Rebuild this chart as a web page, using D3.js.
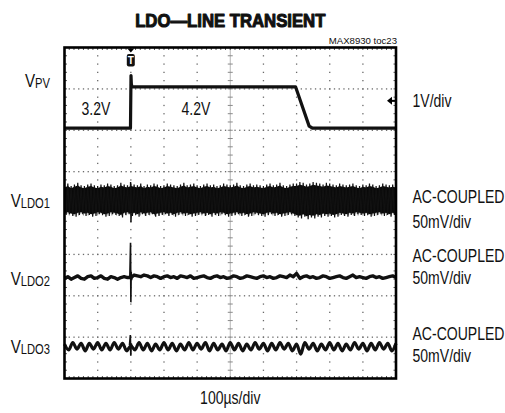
<!DOCTYPE html>
<html>
<head>
<meta charset="utf-8">
<script src="https://cdn.jsdelivr.net/npm/d3@7"></script>
<style>
  html, body { margin: 0; padding: 0; background: #fff; }
  svg { display: block; }
  .lbl { font-family: "Liberation Sans", Arial, Helvetica, sans-serif; fill: #111; }
</style>
</head>
<body>
<svg id="chart" width="505" height="413"></svg>
<script>
// ---- scope settings -------------------------------------------------------
const timeDivs = d3.range(0, 1001, 100);          // 100 µs/div, 10 divisions
const vertDivs = d3.range(-4, 5, 1);              // 8 vertical divisions

// ---- VPV input step (V) ---------------------------------------------------
const vpvT = [0, 199, 200.6, 201.6, 203, 206, 697, 738, 748, 1000];
const vpvV = [3.2, 3.2, 4.47, 4.28, 4.21, 4.2, 4.2, 3.25, 3.2, 3.2];
const vpvTrigLevel = 3.86;

// ---- VLDO1 noise band envelope (mV), one sample every 10 µs -----------------
const ldo1Step = 10;
const ldo1Upper = [18,20,17,19,21,18,17,19,20,18,
                   17,19,18,20,19,17,18,21,19,18,
                   20,19,18,20,17,19,18,20,19,17,
                   18,20,19,18,17,19,21,18,19,20,
                   18,17,19,20,18,19,17,18,20,19,
                   18,19,21,18,17,19,20,18,19,18,
                   17,19,20,18,19,21,18,17,19,20,
                   20,22,21,19,20,22,21,20,19,21,
                   20,19,18,20,19,18,19,20,18,17,
                   19,18,20,19,17,18,20,19,18,19,
                   18];
const ldo1Lower = [-18,-17,-19,-20,-18,-17,-19,-18,-20,-19,
                   -17,-18,-20,-19,-17,-18,-19,-21,-18,-17,
                   -19,-18,-20,-17,-19,-18,-17,-20,-19,-18,
                   -17,-19,-18,-20,-18,-17,-19,-18,-20,-19,
                   -18,-17,-19,-18,-20,-18,-19,-17,-18,-20,
                   -19,-18,-17,-19,-18,-20,-19,-17,-18,-19,
                   -20,-18,-17,-19,-18,-20,-19,-18,-17,-19,
                   -21,-22,-20,-23,-21,-22,-20,-21,-19,-20,
                   -19,-21,-20,-18,-19,-20,-18,-19,-17,-18,
                   -19,-18,-20,-19,-18,-17,-19,-18,-20,-18,
                   -19];
const ldo1SpikeT = [198, 199.4, 200.4, 201.6];
const ldo1SpikeV = [-15, 22, -27, -16];

// ---- VLDO2 (mV), one sample every 10 µs -----------------------------------
const ldo2Step = 10;
const ldo2V = [-1,1,-2,0,2,-1,-2,1,2,-1,
               0,2,-1,-2,1,0,-2,0,1,0,
               0,3,2,1,3,2,0,2,1,-1,
               1,2,0,1,-1,2,1,0,2,-1,
               0,1,2,0,-1,1,2,0,1,-1,
               0,2,1,-1,0,2,1,0,-1,1,
               2,0,1,-1,0,2,1,0,3,1,
               5,-1,1,2,0,1,-1,0,2,1,
               -1,0,1,2,0,-1,1,3,0,1,
               0,-1,1,2,0,1,-1,0,1,2,
               0];
const ldo2SpikeT = [197, 199.2, 200.2, 201.2, 202.4, 204];
const ldo2SpikeV = [0, 42, -30, 7, -3, 1];

// ---- VLDO3 ripple (mV), one sample every 12.5 µs --------------------------
const ldo3Step = 12.5;
const ldo3V = [3,-4,5,-3,4,-5,4,-3,5,-4,
               4,-4,5,-3,4,-5,1,-4,5,-4,
               4,-5,3,-4,5,-4,4,-5,3,-4,
               5,-4,4,-3,5,-5,4,-4,3,-5,
               5,-4,4,-5,3,-4,5,-3,4,-5,
               4,-4,5,-3,4,-5,3,-9,5,-3,
               4,-5,3,-4,5,-4,4,-5,3,-4,
               5,-3,4,-5,4,-4,5,-3,4,-5,
               4];
const ldo3SpikeT = [196, 198.6, 200, 201.4, 204];
const ldo3SpikeV = [2, 14, -11, 4, 0];

// ---- text -----------------------------------------------------------------
const titleText = "LDO\u2014LINE TRANSIENT";
const tocText = "MAX8930 toc23";
const timeLabel = "100\u00b5s/div";
const levelLabels = ["3.2V", "4.2V"];
const channelNames = [["V", "PV"], ["V", "LDO1"], ["V", "LDO2"], ["V", "LDO3"]];
const channelScales = [["1V/div"], ["AC-COUPLED", "50mV/div"], ["AC-COUPLED", "50mV/div"], ["AC-COUPLED", "50mV/div"]];

// ---- layout ---------------------------------------------------------------
const frame = { left: 64.5, right: 396, top: 47.5, bottom: 378.5 };
const svg = d3.select("#chart");
const narrow = 0.78;   // horizontal squeeze for the condensed lettering

const x = d3.scaleLinear().domain([0, 1000]).range([frame.left, frame.right]);
const div = d3.scaleLinear().domain([4, -4]).range([frame.top, frame.bottom]);

// a channel whose value `ref` sits at `refDiv` divisions from screen centre
function channelScale(perDiv, ref, refDiv) {
  return d3.scaleLinear()
    .domain([ref - (4 + refDiv) * perDiv, ref + (4 - refDiv) * perDiv])
    .range([frame.bottom, frame.top]);
}
const vpvY  = channelScale(1, 3.2, 2.05);
const ldo1Y = channelScale(50, 0, 0.31);
const ldo2Y = channelScale(50, 0, -1.56);
const ldo3Y = channelScale(50, 0, -3.23);

const divW = (frame.right - frame.left) / 10;
const divH = (frame.bottom - frame.top) / 8;

function label(px, py, size, anchor, sx) {
  return svg.append("text").attr("class", "lbl")
    .attr("transform", `translate(${px},${py}) scale(${sx},1)`)
    .attr("text-anchor", anchor).attr("font-size", size);
}

// ---- graticule ------------------------------------------------------------
const grid = svg.append("g").attr("fill", "#6a6a6a");
const xCentre = x(500), yCentre = div(0);

// dotted horizontal lines (7 dots per division)
vertDivs.filter(d => d !== -4 && d !== 4 && d !== 0).forEach(d => {
  const yy = div(d);
  d3.range(0, 71).forEach(i => {
    grid.append("rect").attr("x", frame.left + i * divW / 7 - 0.6).attr("y", yy - 0.6)
      .attr("width", 1.3).attr("height", 1.3);
  });
});
// dotted vertical lines (5 dots per division)
timeDivs.filter(t => t !== 0 && t !== 1000 && t !== 500).forEach(t => {
  const xx = x(t);
  d3.range(0, 41).forEach(j => {
    grid.append("rect").attr("x", xx - 0.6).attr("y", frame.top + j * divH / 5 - 0.6)
      .attr("width", 1.3).attr("height", 1.3);
  });
});
// centre axes with minor ticks, plus edge ticks
const axes = svg.append("g").attr("stroke", "#8a8a8a").attr("stroke-width", 1);
axes.append("line").attr("x1", xCentre).attr("x2", xCentre).attr("y1", frame.top).attr("y2", frame.bottom).attr("stroke", "#b5b5b5");
axes.append("line").attr("y1", yCentre).attr("y2", yCentre).attr("x1", frame.left).attr("x2", frame.right).attr("stroke", "#b5b5b5");
d3.range(0, 41).forEach(j => {
  const yy = frame.top + j * divH / 5;
  axes.append("line").attr("x1", xCentre - 2.5).attr("x2", xCentre + 2.5).attr("y1", yy).attr("y2", yy);
  axes.append("line").attr("x1", frame.left).attr("x2", frame.left + 2.5).attr("y1", yy).attr("y2", yy).attr("stroke", "#555");
  axes.append("line").attr("x1", frame.right - 2.5).attr("x2", frame.right).attr("y1", yy).attr("y2", yy).attr("stroke", "#555");
});
d3.range(0, 71).forEach(i => {
  const xx = frame.left + i * divW / 7;
  axes.append("line").attr("x1", xx).attr("x2", xx).attr("y1", yCentre - 2.5).attr("y2", yCentre + 2.5);
  axes.append("line").attr("x1", xx).attr("x2", xx).attr("y1", frame.top).attr("y2", frame.top + 2.5).attr("stroke", "#555");
  axes.append("line").attr("x1", xx).attr("x2", xx).attr("y1", frame.bottom - 2.5).attr("y2", frame.bottom).attr("stroke", "#555");
});

// ---- traces ---------------------------------------------------------------
const traces = svg.append("g");
const zip = (ts, vs) => ts.map((t, i) => [t, vs[i]]);
const stepped = (step, vs) => vs.map((v, i) => [i * step, v]);

// VPV
traces.append("path")
  .datum(zip(vpvT, vpvV))
  .attr("d", d3.line().x(d => x(d[0])).y(d => vpvY(d[1])))
  .attr("fill", "none").attr("stroke", "#111").attr("stroke-width", 3.2)
  .attr("stroke-linejoin", "round");

// VLDO1 noise band: solid core plus a zigzag reaching the full envelope
const ldo1Band = ldo1Upper.map((u, i) => ({ t: i * ldo1Step, hi: u, lo: ldo1Lower[i] }));
traces.append("path")
  .datum(ldo1Band)
  .attr("d", d3.area().x(d => x(d.t)).y0(d => ldo1Y(d.lo * 0.85)).y1(d => ldo1Y(d.hi * 0.85)))
  .attr("fill", "#0a0a0a");
const ldo1Zig = [];
ldo1Band.forEach(d => {
  ldo1Zig.push([d.t, d.hi]);
  if (d.t < 1000) ldo1Zig.push([d.t + ldo1Step / 2, d.lo]);
});
traces.append("path")
  .datum(ldo1Zig)
  .attr("d", d3.line().x(d => x(d[0])).y(d => ldo1Y(d[1])))
  .attr("fill", "none").attr("stroke", "#111").attr("stroke-width", 1.2);
traces.append("path")
  .datum(zip(ldo1SpikeT, ldo1SpikeV))
  .attr("d", d3.line().x(d => x(d[0])).y(d => ldo1Y(d[1])))
  .attr("fill", "none").attr("stroke", "#111").attr("stroke-width", 1.4);

// VLDO2
traces.append("path")
  .datum(stepped(ldo2Step, ldo2V))
  .attr("d", d3.line().x(d => x(d[0])).y(d => ldo2Y(d[1])))
  .attr("fill", "none").attr("stroke", "#111").attr("stroke-width", 3.4)
  .attr("stroke-linejoin", "round");
traces.append("path")
  .datum(zip(ldo2SpikeT, ldo2SpikeV))
  .attr("d", d3.line().x(d => x(d[0])).y(d => ldo2Y(d[1])))
  .attr("fill", "none").attr("stroke", "#111").attr("stroke-width", 1.6);

// VLDO3
traces.append("path")
  .datum(stepped(ldo3Step, ldo3V))
  .attr("d", d3.line().curve(d3.curveCatmullRom.alpha(0.5)).x(d => x(d[0])).y(d => ldo3Y(d[1])))
  .attr("fill", "none").attr("stroke", "#111").attr("stroke-width", 3.2)
  .attr("stroke-linejoin", "round");
traces.append("path")
  .datum(zip(ldo3SpikeT, ldo3SpikeV))
  .attr("d", d3.line().x(d => x(d[0])).y(d => ldo3Y(d[1])))
  .attr("fill", "none").attr("stroke", "#111").attr("stroke-width", 1.6);

// ---- frame and markers ----------------------------------------------------
svg.append("rect")
  .attr("x", frame.left).attr("y", frame.top)
  .attr("width", frame.right - frame.left).attr("height", frame.bottom - frame.top)
  .attr("fill", "none").attr("stroke", "#000").attr("stroke-width", 2.6);

// trigger position marker
const tx = x(200);
svg.append("path")
  .attr("d", `M${tx - 3.5},${frame.top + 1}L${tx + 3.5},${frame.top + 1}L${tx},${frame.top + 5}Z`)
  .attr("fill", "#000");
svg.append("rect")
  .attr("x", tx - 4).attr("y", frame.top + 6.5).attr("width", 8).attr("height", 12.5)
  .attr("rx", 2).attr("fill", "#111");
svg.append("text")
  .attr("x", tx).attr("y", frame.top + 16.5).attr("text-anchor", "middle")
  .attr("font-family", "Liberation Sans, Arial, sans-serif").attr("font-weight", "bold")
  .attr("font-size", 10).attr("fill", "#fff").text("T");

// trigger level marker
const ty = vpvY(vpvTrigLevel);
svg.append("path")
  .attr("d", `M${frame.right - 9},${ty}L${frame.right - 4},${ty - 4}L${frame.right - 4},${ty + 4}Z`)
  .attr("fill", "#000");
svg.append("line")
  .attr("x1", frame.right - 5).attr("x2", frame.right).attr("y1", ty).attr("y2", ty)
  .attr("stroke", "#000").attr("stroke-width", 2);

// ---- labels ---------------------------------------------------------------
label(x(500), 27, 19, "middle", 0.88)
  .attr("font-weight", "bold").attr("stroke", "#111").attr("stroke-width", 1.1)
  .attr("stroke-linejoin", "round")
  .text(titleText);

label(frame.right + 1, 43.5, 9.8, "end", 0.98).attr("fill", "#222").text(tocText);

label(x(500), 404, 18, "middle", narrow).text(timeLabel);

// step level labels
label(81.5, 115, 18, "start", narrow).text(levelLabels[0]);
label(181.5, 114.5, 18, "start", narrow).text(levelLabels[1]);

// channel names, right-aligned against the screen
const nameBaselines = [87, 207, 285, 353];
channelNames.forEach((n, i) => {
  const t = label(50, nameBaselines[i], 19, "end", 0.8);
  t.append("tspan").text(n[0]);
  t.append("tspan").attr("font-size", 14).attr("dy", 1).text(n[1]);
});

// channel scale notes
const noteBaselines = [[107], [203, 228], [262, 284], [340, 362]];
channelScales.forEach((lines, i) => {
  lines.forEach((s, j) => {
    label(412.5, noteBaselines[i][j], 18, "start", narrow).text(s);
  });
});
</script>
</body>
</html>
